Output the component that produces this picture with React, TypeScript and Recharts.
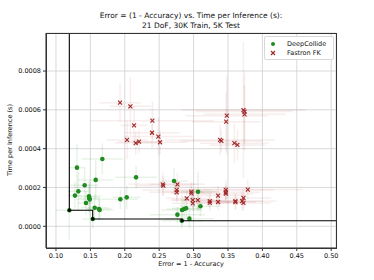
import React from 'react';
import { ComposedChart, Scatter, ErrorBar, XAxis, YAxis, CartesianGrid } from 'recharts';

const deepX = [0.1194, 0.1305, 0.1325, 0.1276, 0.1417, 0.1436, 0.148, 0.1485, 0.149, 0.1577, 0.1674, 0.1534, 0.1563, 0.1625, 0.1635, 0.2164, 0.1936, 0.2028, 0.2716, 0.3065, 0.31, 0.2833, 0.2862, 0.2891, 0.2765, 0.2828, 0.2939];
const deepY = [0.0000824, 0.000302, 0.00018, 0.000158, 0.000211, 0.00012, 0.000155, 0.000145, 0.000138, 0.000239, 0.000347, 0.0000376, 0.0000958, 0.0000891, 0.000084, 0.000252, 0.000139, 0.000149, 0.000233, 0.000178, 0.000103, 0.000084, 0.000089, 0.000093, 0.0000598, 0.0000288, 0.0000392];
const deepEx = [0.02, 0.012, 0.015, 0.01, 0.02, 0.012, 0.018, 0.015, 0.02, 0.025, 0.03, 0.015, 0.02, 0.018, 0.02, 0.03, 0.025, 0.02, 0.02, 0.025, 0.03, 0.03, 0.025, 0.02, 0.04, 0.03, 0.035];
const deepEy = [0.00015, 0.00012, 0.0001, 0.00007, 0.00009, 0.00006, 0.00008, 0.00007, 0.00009, 0.0001, 0.00008, 0.00005, 0.00007, 0.00006, 0.00005, 0.00006, 0.00005, 0.00006, 0.00007, 0.0001, 0.00005, 0.00008, 0.00006, 0.00005, 0.00004, 0.00004, 0.00005];

const fastX = [0.1931, 0.2081, 0.2135, 0.2401, 0.2396, 0.2488, 0.2513, 0.2033, 0.2159, 0.2207, 0.3385, 0.3404, 0.3593, 0.3637, 0.3483, 0.3473, 0.3725, 0.374, 0.374, 0.2552, 0.256, 0.2765, 0.2755, 0.2755, 0.2901, 0.2968, 0.2968, 0.2988, 0.2988, 0.3061, 0.3235, 0.3235, 0.3356, 0.3356, 0.3468, 0.3468, 0.3468, 0.3608, 0.3608, 0.3705, 0.3725, 0.3725, 0.3788];
const fastY = [0.000637, 0.000618, 0.00052, 0.000544, 0.000482, 0.000462, 0.000433, 0.000445, 0.000429, 0.000436, 0.000445, 0.00044, 0.000428, 0.000419, 0.00057, 0.000539, 0.000599, 0.000591, 0.000577, 0.000216, 0.000209, 0.000216, 0.000187, 0.000175, 0.000144, 0.000178, 0.00017, 0.000135, 0.000118, 0.000135, 0.00013, 0.00012, 0.000158, 0.000125, 0.000187, 0.000175, 0.000168, 0.000129, 0.000124, 0.000129, 0.00012, 0.000146, 0.000189];
const fastEx = [0.03, 0.03, 0.02, 0.09, 0.04, 0.05, 0.04, 0.03, 0.03, 0.03, 0.08, 0.06, 0.05, 0.04, 0.06, 0.05, 0.09, 0.07, 0.06, 0.05, 0.04, 0.04, 0.05, 0.04, 0.03, 0.04, 0.03, 0.03, 0.03, 0.04, 0.04, 0.03, 0.04, 0.03, 0.07, 0.05, 0.04, 0.04, 0.03, 0.05, 0.04, 0.04, 0.08];
const fastEy = [0.0001, 0.00015, 0.0001, 0.0001, 0.00008, 0.0001, 0.00006, 0.0001, 0.00006, 0.00006, 0.00008, 0.00006, 0.0001, 0.00008, 0.0002, 0.00015, 0.00035, 0.0002, 0.00015, 0.00006, 0.00005, 0.00006, 0.00005, 0.00005, 0.00004, 0.00005, 0.00004, 0.00004, 0.00004, 0.00005, 0.00004, 0.00004, 0.00005, 0.00004, 0.00005, 0.00004, 0.00004, 0.00004, 0.00004, 0.00005, 0.00004, 0.00005, 0.00005];

// pareto points (best time for a given error)
const paretoX = [0.1194, 0.1534, 0.2833];
const paretoY = [0.0000824, 0.0000376, 0.0000288];

const xTicks = [0.1, 0.15, 0.2, 0.25, 0.3, 0.35, 0.4, 0.45, 0.5];
const yTicks = [0, 0.0002, 0.0004, 0.0006, 0.0008];

const deepData = deepX.map((x, i) => ({ x, y: deepY[i], ex: deepEx[i], ey: deepEy[i] }));
const fastData = fastX.map((x, i) => ({ x, y: fastY[i], ex: fastEx[i], ey: fastEy[i] }));
const paretoData = paretoX.map((x, i) => ({ x, y: paretoY[i] }));

// step line through the pareto points, running off the top and right edge
const stepData: { x: number; y: number }[] = [{ x: paretoX[0], y: 0.0012 }];
paretoX.forEach((x, i) => {
  stepData.push({ x, y: paretoY[i] });
  stepData.push({ x: i < paretoX.length - 1 ? paretoX[i + 1] : 0.53, y: paretoY[i] });
});

const font = '"DejaVu Sans", sans-serif';

const Cross = (props: any) => {
  const { cx, cy } = props;
  const s = 2;
  return (
    <g stroke="#a02828" strokeWidth={1.1}>
      <line x1={cx - s} y1={cy - s} x2={cx + s} y2={cy + s} />
      <line x1={cx - s} y1={cy + s} x2={cx + s} y2={cy - s} />
    </g>
  );
};

const Dot = (props: any) => <circle cx={props.cx} cy={props.cy} r={2.3} fill="#1f8c1f" />;
const BlackDot = (props: any) => <circle cx={props.cx} cy={props.cy} r={1.6} fill="#000" />;

export default function App() {
  return (
    <div style={{ position: 'absolute', left: 0, top: 0, width: 374, height: 280, background: '#fff', fontFamily: font }}>
      <div style={{ position: 'absolute', left: 46, width: 290, top: 11, textAlign: 'center', fontSize: 7.5, lineHeight: '9.5px', color: '#111' }}>
        Error = (1 - Accuracy) vs. Time per Inference (s):<br />21 DoF, 30K Train, 5K Test
      </div>
      <ComposedChart width={374} height={280} margin={{ top: 33, right: 38, bottom: 0, left: 0 }}>
        <CartesianGrid stroke="#cfcfcf" strokeWidth={0.8} />
        <XAxis
          type="number"
          dataKey="x"
          domain={[0.0855, 0.507]}
          allowDataOverflow
          ticks={xTicks}
          tickFormatter={(v: number) => v.toFixed(2)}
          height={32}
          tickSize={3}
          tick={{ fontSize: 6.5, fill: '#111', fontFamily: font }}
          stroke="#333"
        />
        <YAxis
          type="number"
          dataKey="y"
          domain={[-0.000112, 0.000996]}
          allowDataOverflow
          ticks={yTicks}
          tickFormatter={(v: number) => v.toFixed(4)}
          width={46}
          tickSize={3}
          tick={{ fontSize: 6.5, fill: '#111', fontFamily: font }}
          stroke="#333"
        />
        <Scatter data={deepData} shape={Dot} isAnimationActive={false}>
          <ErrorBar dataKey="ex" direction="x" width={0} stroke="#1f8c1f" strokeOpacity={0.1} isAnimationActive={false} />
          <ErrorBar dataKey="ey" direction="y" width={0} stroke="#1f8c1f" strokeOpacity={0.1} isAnimationActive={false} />
        </Scatter>
        <Scatter data={fastData} shape={Cross} isAnimationActive={false}>
          <ErrorBar dataKey="ex" direction="x" width={0} stroke="#a02828" strokeOpacity={0.08} isAnimationActive={false} />
          <ErrorBar dataKey="ey" direction="y" width={0} stroke="#a02828" strokeOpacity={0.08} isAnimationActive={false} />
        </Scatter>
        <Scatter data={stepData} line={{ stroke: '#000', strokeWidth: 1.1 }} shape={() => null} isAnimationActive={false} />
        <Scatter data={paretoData} shape={BlackDot} isAnimationActive={false} />
      </ComposedChart>
      <div style={{ position: 'absolute', left: 46, top: 33, width: 289, height: 214, border: '0.8px solid #333', pointerEvents: 'none' }} />
      <div style={{ position: 'absolute', left: 46, width: 290, top: 260, textAlign: 'center', fontSize: 6.5, color: '#111' }}>
        Error = 1 - Accuracy
      </div>
      <div style={{ position: 'absolute', left: 10, top: 140, transform: 'translate(-50%, -50%) rotate(-90deg)', whiteSpace: 'nowrap', fontSize: 6.5, color: '#111' }}>
        Time per Inference (s)
      </div>
      <div style={{ position: 'absolute', left: 264, top: 36, width: 68, height: 22, border: '0.8px solid #d8d8d8', borderRadius: 2, background: 'rgba(255,255,255,0.85)', fontSize: 6.5, color: '#111' }}>
        <div style={{ position: 'absolute', left: 6, top: 5, width: 4, height: 4, borderRadius: 2, background: '#1f8c1f' }} />
        <div style={{ position: 'absolute', left: 22, top: 2.5, lineHeight: '8px' }}>DeepCollide</div>
        <svg style={{ position: 'absolute', left: 5, top: 13 }} width={6} height={6}>
          <line x1={1} y1={1} x2={5} y2={5} stroke="#a02828" strokeWidth={1.1} />
          <line x1={1} y1={5} x2={5} y2={1} stroke="#a02828" strokeWidth={1.1} />
        </svg>
        <div style={{ position: 'absolute', left: 22, top: 11.5, lineHeight: '8px' }}>Fastron FK</div>
      </div>
    </div>
  );
}
